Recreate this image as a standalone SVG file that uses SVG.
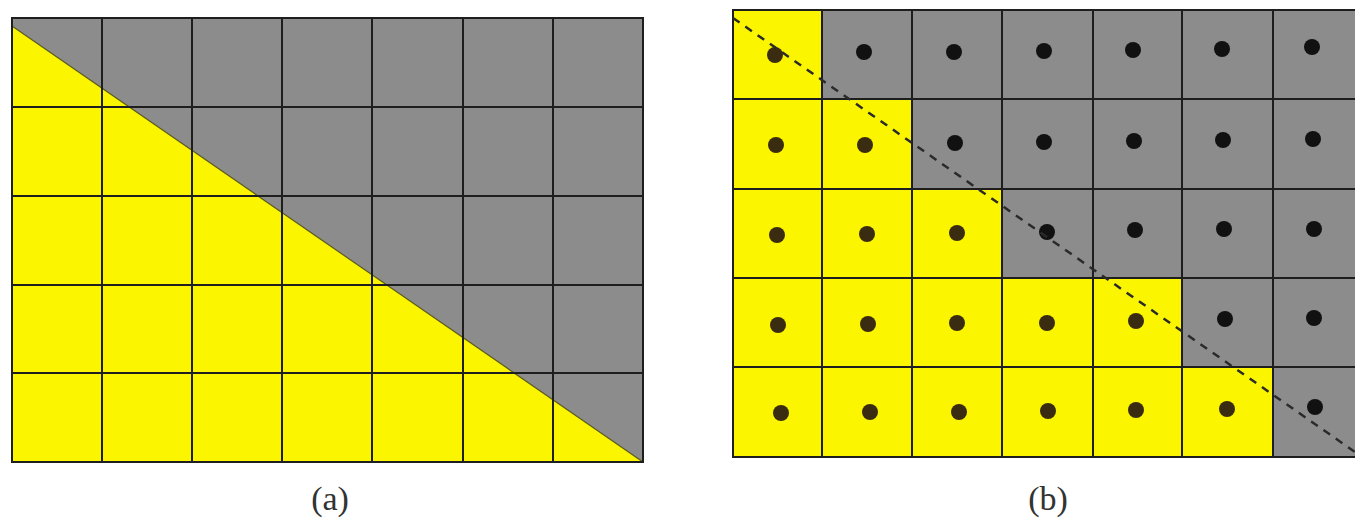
<svg xmlns="http://www.w3.org/2000/svg" width="1355" height="521" viewBox="0 0 1355 521">
<style>
.grey{fill:#8c8c8c}
.yel{fill:#fbf500}
.grid{stroke:#1e1e1e;stroke-width:2;fill:none}
.dy{fill:#3a2c10}
.dg{fill:#111}
.lbl{font-family:"Liberation Serif","DejaVu Serif",serif;font-size:34px;fill:#333;text-anchor:middle}
</style>
<rect width="1355" height="521" fill="#fff"/>
<g id="panel-a">
<rect class="grey" x="12" y="18" width="631" height="444"/>
<polygon class="yel" points="12,26 643,462 12,462"/>
<line x1="12" y1="26" x2="643" y2="462" stroke="#5a5a20" stroke-width="1.2"/>
<path class="grid" d="M12,18H643V462H12Z M102,18V462 M192,18V462 M282,18V462 M372,18V462 M463,18V462 M553,18V462 M12,107H643 M12,196H643 M12,285H643 M12,373H643"/>
</g>
<g id="panel-b">
<rect class="grey" x="733" y="10" width="640" height="447"/>
<rect class="yel" x="733" y="10" width="89" height="89"/>
<rect class="yel" x="733" y="99" width="179" height="90"/>
<rect class="yel" x="733" y="189" width="269" height="89"/>
<rect class="yel" x="733" y="278" width="449" height="89"/>
<rect class="yel" x="733" y="367" width="540" height="90"/>
<path class="grid" d="M733,10H1373V457H733Z M822,10V457 M912,10V457 M1002,10V457 M1093,10V457 M1182,10V457 M1273,10V457 M733,99H1373 M733,189H1373 M733,278H1373 M733,367H1373"/>
<g id="dots">
<circle class="dy" cx="775" cy="55" r="8"/><circle class="dg" cx="864" cy="52" r="8"/><circle class="dg" cx="954" cy="52" r="8"/><circle class="dg" cx="1044" cy="51" r="8"/><circle class="dg" cx="1133" cy="50" r="8"/><circle class="dg" cx="1222" cy="49" r="8"/><circle class="dg" cx="1312" cy="47" r="8"/>
<circle class="dy" cx="776" cy="145" r="8"/><circle class="dy" cx="865" cy="145" r="8"/><circle class="dg" cx="955" cy="143" r="8"/><circle class="dg" cx="1044" cy="142" r="8"/><circle class="dg" cx="1134" cy="141" r="8"/><circle class="dg" cx="1223" cy="140" r="8"/><circle class="dg" cx="1313" cy="139" r="8"/>
<circle class="dy" cx="777" cy="235" r="8"/><circle class="dy" cx="867" cy="234" r="8"/><circle class="dy" cx="957" cy="233" r="8"/><circle class="dg" cx="1047" cy="232" r="8"/><circle class="dg" cx="1135" cy="230" r="8"/><circle class="dg" cx="1224" cy="229" r="8"/><circle class="dg" cx="1314" cy="229" r="8"/>
<circle class="dy" cx="778" cy="325" r="8"/><circle class="dy" cx="868" cy="324" r="8"/><circle class="dy" cx="957" cy="323" r="8"/><circle class="dy" cx="1047" cy="323" r="8"/><circle class="dy" cx="1136" cy="321" r="8"/><circle class="dg" cx="1225" cy="319" r="8"/><circle class="dg" cx="1314" cy="318" r="8"/>
<circle class="dy" cx="781" cy="413" r="8"/><circle class="dy" cx="870" cy="412" r="8"/><circle class="dy" cx="959" cy="412" r="8"/><circle class="dy" cx="1048" cy="411" r="8"/><circle class="dy" cx="1136" cy="410" r="8"/><circle class="dy" cx="1227" cy="409" r="8"/><circle class="dg" cx="1315" cy="407" r="8"/>
</g>
</g>
<g id="connectors">
<line x1="733" y1="18" x2="1355" y2="452" stroke="#2a2a2a" stroke-width="2.5" stroke-dasharray="8,7"/>
</g>
<g id="labels">
<text class="lbl" x="330" y="510">(a)</text>
<text class="lbl" x="1048" y="510">(b)</text>
</g>
</svg>
